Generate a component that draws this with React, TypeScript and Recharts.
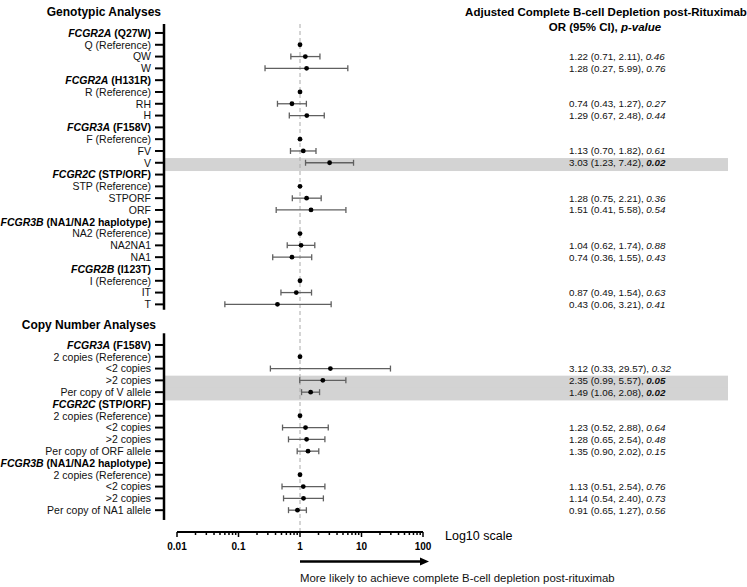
import { ComposedChart, Scatter, ErrorBar, XAxis, YAxis, ReferenceLine, ReferenceArea } from "recharts";

const FONT = "'Liberation Sans', Arial, sans-serif";

// Genotypic analyses (gene header rows have no estimate)
const genotypicLabels = [
  "FCGR2A (Q27W)", "Q (Reference)", "QW", "W",
  "FCGR2A (H131R)", "R (Reference)", "RH", "H",
  "FCGR3A (F158V)", "F (Reference)", "FV", "V",
  "FCGR2C (STP/ORF)", "STP (Reference)", "STPORF", "ORF",
  "FCGR3B (NA1/NA2 haplotype)", "NA2 (Reference)", "NA2NA1", "NA1",
  "FCGR2B (I123T)", "I (Reference)", "IT", "T",
];
const genotypicOR = [null, 1, 1.22, 1.28, null, 1, 0.74, 1.29, null, 1, 1.13, 3.03, null, 1, 1.28, 1.51, null, 1, 1.04, 0.74, null, 1, 0.87, 0.43];
const genotypicLow = [null, null, 0.71, 0.27, null, null, 0.43, 0.67, null, null, 0.7, 1.23, null, null, 0.75, 0.41, null, null, 0.62, 0.36, null, null, 0.49, 0.06];
const genotypicHigh = [null, null, 2.11, 5.99, null, null, 1.27, 2.48, null, null, 1.82, 7.42, null, null, 2.21, 5.58, null, null, 1.74, 1.55, null, null, 1.54, 3.21];
const genotypicP = [null, null, 0.46, 0.76, null, null, 0.27, 0.44, null, null, 0.61, 0.02, null, null, 0.36, 0.54, null, null, 0.88, 0.43, null, null, 0.63, 0.41];

// Copy number analyses
const copyLabels = [
  "FCGR3A (F158V)", "2 copies (Reference)", "<2 copies", ">2 copies", "Per copy of V allele",
  "FCGR2C (STP/ORF)", "2 copies (Reference)", "<2 copies", ">2 copies", "Per copy of ORF allele",
  "FCGR3B (NA1/NA2 haplotype)", "2 copies (Reference)", "<2 copies", ">2 copies", "Per copy of NA1 allele",
];
const copyOR = [null, 1, 3.12, 2.35, 1.49, null, 1, 1.23, 1.28, 1.35, null, 1, 1.13, 1.14, 0.91];
const copyLow = [null, null, 0.33, 0.99, 1.06, null, null, 0.52, 0.65, 0.9, null, null, 0.51, 0.54, 0.65];
const copyHigh = [null, null, 29.57, 5.57, 2.08, null, null, 2.88, 2.54, 2.02, null, null, 2.54, 2.4, 1.27];
const copyP = [null, null, 0.32, 0.05, 0.02, null, null, 0.64, 0.48, 0.15, null, null, 0.76, 0.73, 0.56];

const majorTicks = [0.01, 0.1, 1, 10, 100];
const minorTicks = majorTicks.slice(0, -1).flatMap((d) => [2, 3, 4, 5, 6, 7, 8, 9].map((k) => k * d));

// layout of the row axis
const COPY_START = 26.44;
const Y_DOMAIN: [number, number] = [-0.76, 42.29];
const GENO_AXIS: [number, number] = [-0.76, 23.45];
const COPY_AXIS: [number, number] = [25.45, 41.27];

type Row = { y: number; label: string; or: number | null; lo: number | null; hi: number | null; p: number | null };

const rows: Row[] = [
  ...genotypicLabels.map((label, i) => ({ y: i, label, or: genotypicOR[i], lo: genotypicLow[i], hi: genotypicHigh[i], p: genotypicP[i] })),
  ...copyLabels.map((label, i) => ({ y: COPY_START + i, label, or: copyOR[i], lo: copyLow[i], hi: copyHigh[i], p: copyP[i] })),
];

const refPoints = rows.filter((r) => r.or != null && r.lo == null).map((r) => ({ x: r.or, y: r.y }));
const estPoints = rows
  .filter((r) => r.lo != null)
  .map((r) => ({ x: r.or, y: r.y, err: [(r.or as number) - (r.lo as number), (r.hi as number) - (r.or as number)] }));
const sigRows = rows.filter((r) => r.p != null && r.p <= 0.05);

const findRow = (v: number) => rows.find((r) => Math.abs(r.y - v) < 1e-6);
const isHeader = (label: string) => /^FCGR\w+ \(/.test(label);

function LeftTick(props: any) {
  const { x, y, payload } = props;
  const row = findRow(payload.value);
  if (!row) return null;
  const sp = row.label.indexOf(" ");
  return (
    <g>
      <line x1={x + 4} x2={x + 13} y1={y} y2={y} stroke="#000" strokeWidth={2} />
      {isHeader(row.label) ? (
        <text x={x} y={y} dy="0.36em" textAnchor="end" fontSize={10.5} fontFamily={FONT} fontWeight={700} fill="#000">
          <tspan fontStyle="italic">{row.label.slice(0, sp)}</tspan>
          <tspan>{row.label.slice(sp)}</tspan>
        </text>
      ) : (
        <text x={x} y={y} dy="0.36em" textAnchor="end" fontSize={10.5} fontFamily={FONT} fill="#111">
          {row.label}
        </text>
      )}
    </g>
  );
}

function RightTick(props: any) {
  const { x, y, payload } = props;
  const row = findRow(payload.value);
  if (!row || row.lo == null) return null;
  const sig = (row.p as number) <= 0.05;
  return (
    <text x={x} y={y} dy="0.36em" textAnchor="start" fontSize={9.8} fontFamily={FONT} fill="#111">
      <tspan>{`${(row.or as number).toFixed(2)} (${row.lo.toFixed(2)}, ${(row.hi as number).toFixed(2)}), `}</tspan>
      <tspan fontStyle="italic" fontWeight={sig ? 700 : 400}>{(row.p as number).toFixed(2)}</tspan>
    </text>
  );
}

function XTick(props: any) {
  const { x, y, payload } = props;
  const lg = Math.log10(payload.value);
  const major = Math.abs(lg - Math.round(lg)) < 1e-9;
  return (
    <g>
      <line x1={x} x2={x} y1={y} y2={y + (major ? 5 : 3)} stroke="#000" strokeWidth={1.5} />
      {major && (
        <text x={x} y={y + 18} textAnchor="middle" fontSize={10} fontWeight={700} fontFamily={FONT} fill="#000">
          {String(payload.value)}
        </text>
      )}
    </g>
  );
}

const axisSegment = (p: any) => <line x1={p.x1 - 13} x2={p.x2 - 13} y1={p.y1} y2={p.y2} stroke="#000" strokeWidth={2.5} />;
const band = (p: any) => <rect x={p.x - 12} y={p.y} width={p.width + 12 + 305} height={p.height} fill="#d3d3d3" />;
const dot = (p: any) => <circle cx={p.cx} cy={p.cy} r={2.4} fill="#000" />;

export default function App() {
  return (
    <div style={{ position: "absolute", left: 0, top: 0, width: 747, height: 587, background: "#fff" }}>
      <ComposedChart width={747} height={587} margin={{ top: 24, right: 0, bottom: 0, left: 0 }}>
        {sigRows.map((r) => (
          <ReferenceArea key={`band-${r.y}`} yAxisId="left" y1={r.y - 0.4} y2={r.y + 0.7} ifOverflow="visible" shape={band} />
        ))}
        <ReferenceLine yAxisId="left" x={1} stroke="#aaa" strokeDasharray="4 3" strokeWidth={1} />
        <ReferenceLine yAxisId="left" ifOverflow="visible" segment={[{ x: 0.01, y: GENO_AXIS[0] }, { x: 0.01, y: GENO_AXIS[1] }]} shape={axisSegment} />
        <ReferenceLine yAxisId="left" ifOverflow="visible" segment={[{ x: 0.01, y: COPY_AXIS[0] }, { x: 0.01, y: COPY_AXIS[1] }]} shape={axisSegment} />
        <XAxis
          type="number"
          dataKey="x"
          scale="log"
          domain={[0.01, 100]}
          allowDataOverflow
          ticks={[...majorTicks, ...minorTicks]}
          interval={0}
          height={55}
          axisLine={{ stroke: "#000", strokeWidth: 2 }}
          tickLine={false}
          tickSize={0}
          tickMargin={0}
          tick={<XTick />}
        />
        <YAxis
          yAxisId="left"
          type="number"
          dataKey="y"
          domain={Y_DOMAIN}
          allowDataOverflow
          reversed
          ticks={rows.map((r) => r.y)}
          interval={0}
          width={177}
          axisLine={false}
          tickLine={false}
          tickSize={0}
          tickMargin={26}
          tick={<LeftTick />}
        />
        <YAxis
          yAxisId="right"
          orientation="right"
          type="number"
          domain={Y_DOMAIN}
          allowDataOverflow
          reversed
          ticks={rows.filter((r) => r.lo != null).map((r) => r.y)}
          interval={0}
          width={324}
          axisLine={false}
          tickLine={false}
          tickSize={0}
          tickMargin={146}
          tick={<RightTick />}
        />
        <Scatter yAxisId="left" data={refPoints} isAnimationActive={false} shape={dot} />
        <Scatter yAxisId="left" data={estPoints} isAnimationActive={false} shape={dot}>
          <ErrorBar dataKey="err" direction="x" width={3} stroke="#606060" strokeWidth={1.3} isAnimationActive={false} />
        </Scatter>
      </ComposedChart>
      <svg width={747} height={587} style={{ position: "absolute", left: 0, top: 0, pointerEvents: "none" }}>
        <text x={161} y={16} textAnchor="end" fontSize={12} fontWeight={700} fontFamily={FONT} fill="#000">Genotypic Analyses</text>
        <text x={156} y={329} textAnchor="end" fontSize={12} fontWeight={700} fontFamily={FONT} fill="#000">Copy Number Analyses</text>
        <text x={606} y={16} textAnchor="middle" fontSize={11.5} fontWeight={700} fontFamily={FONT} fill="#000">
          Adjusted Complete B-cell Depletion post-Rituximab
        </text>
        <text x={605} y={31} textAnchor="middle" fontSize={11.5} fontWeight={700} fontFamily={FONT} fill="#000">
          <tspan>OR (95% CI), </tspan>
          <tspan fontStyle="italic">p-value</tspan>
        </text>
        <text x={445} y={539.5} textAnchor="start" fontSize={12.5} fontFamily={FONT} fill="#000">Log10 scale</text>
        <line x1={300} x2={421} y1={561.5} y2={561.5} stroke="#000" strokeWidth={2.5} />
        <polygon points="429,561.5 420,557.5 420,565.5" fill="#000" />
        <text x={300} y={581.5} textAnchor="start" fontSize={11.4} fontFamily={FONT} fill="#111">
          More likely to achieve complete B-cell depletion post-rituximab
        </text>
      </svg>
    </div>
  );
}
